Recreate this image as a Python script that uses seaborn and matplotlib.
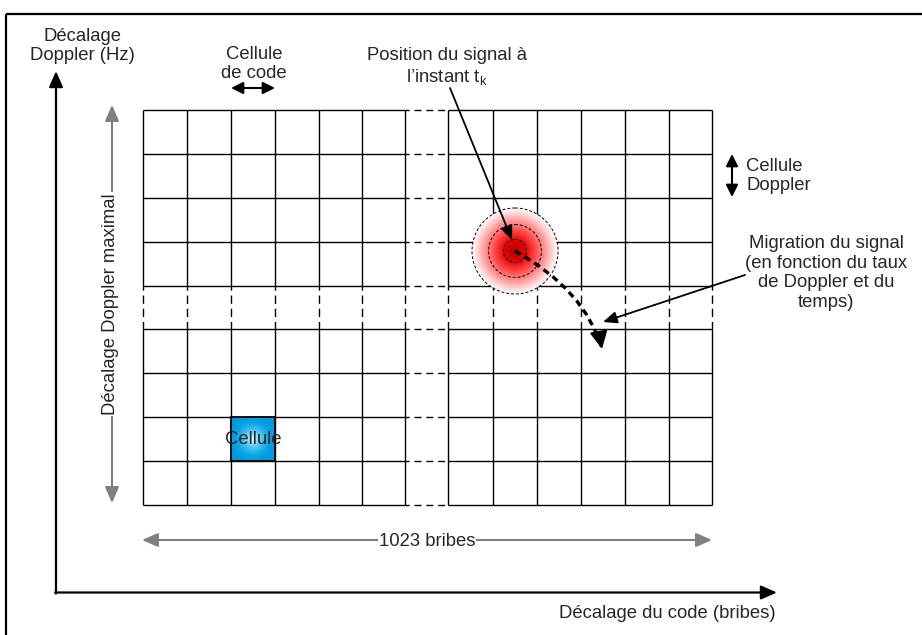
import numpy as np
import matplotlib
matplotlib.use("Agg")
import matplotlib.pyplot as plt
import seaborn as sns
from matplotlib.patches import Rectangle, Circle, PathPatch
from matplotlib.path import Path
from matplotlib.colors import LinearSegmentedColormap

sns.set_theme(style="white")
plt.rcParams['font.family'] = ['Liberation Sans', 'DejaVu Sans']
plt.rcParams['mathtext.fontset'] = 'custom'
plt.rcParams['mathtext.rm'] = 'Liberation Sans'

# ---- data (pixel layout of the diagram) ----
col_edges = [143, 187, 231, 275, 319, 362, 405, 448, 493, 537, 581, 625, 669, 712]
row_edges = [110, 154, 198, 242, 286, 329, 373, 417, 461, 505]
gap_col = 6          # column drawn with dashed lines
gap_row = 4          # row drawn with dashed lines
cell_col, cell_row = 2, 7      # highlighted "Cellule"
signal_center = (515, 251)
signal_radii = [11.5, 26.5, 43]
migration_path = [(515, 251), (585, 290), (602, 349)]

FS = 13.3
fig = plt.figure(figsize=(9.22, 6.35), dpi=100)
ax = fig.add_axes([0, 0, 1, 1])
ax.set_xlim(0, 922)
ax.set_ylim(635, 0)
ax.axis('off')

# frame
ax.add_patch(Rectangle((6, 14), 940, 640, fill=False, lw=1.6, ec='black'))

grid_lw = 1.0
x0, x1 = col_edges[0], col_edges[-1]
y0, y1 = row_edges[0], row_edges[-1]
gx0, gx1 = col_edges[gap_col], col_edges[gap_col + 1]
gy0, gy1 = row_edges[gap_row], row_edges[gap_row + 1]

# horizontal lines
for y in row_edges:
    ax.plot([x0, gx0], [y, y], color='black', lw=grid_lw, solid_capstyle='butt')
    ax.plot([gx1, x1], [y, y], color='black', lw=grid_lw, solid_capstyle='butt')
    ax.plot([gx0, gx1], [y, y], color='black', lw=grid_lw, linestyle=(2, (5, 3.5)))
# vertical lines
for x in col_edges:
    ax.plot([x, x], [y0, gy0], color='black', lw=grid_lw, solid_capstyle='butt')
    ax.plot([x, x], [gy1, y1], color='black', lw=grid_lw, solid_capstyle='butt')
    ax.plot([x, x], [gy0, gy1], color='black', lw=grid_lw, linestyle=(3, (6, 3.5)))

# blue cell with radial gradient
cx0, cx1 = col_edges[cell_col], col_edges[cell_col + 1]
cy0, cy1 = row_edges[cell_row], row_edges[cell_row + 1]
yy, xx = np.mgrid[-1:1:200j, -1:1:200j]
rr = np.clip(np.sqrt(xx**2 + yy**2) / 1.1, 0, 1)
blue_cmap = LinearSegmentedColormap.from_list('b', ['#e6f8ff', '#55c8f2', '#0aa6e6', '#0098dc'])
ax.imshow(rr, cmap=blue_cmap, extent=(cx0, cx1, cy1, cy0), zorder=2, vmin=0, vmax=1,
          interpolation='bilinear')
ax.add_patch(Rectangle((cx0, cy0), cx1 - cx0, cy1 - cy0, fill=False, ec='black', lw=1.3, zorder=3))
ax.text((cx0 + cx1) / 2, (cy0 + cy1) / 2 + 0.5, 'Cellule', ha='center', va='center', fontsize=FS, zorder=4)

# red signal gradient
scx, scy = signal_center
R = signal_radii[-1]
yy, xx = np.mgrid[-1:1:300j, -1:1:300j]
r = np.sqrt(xx**2 + yy**2)
rgba = np.zeros(r.shape + (4,))
red_cmap = LinearSegmentedColormap.from_list('r', [(0, '#b00000'), (0.22, '#e00000'), (0.45, '#ff3f3f'),
                                                  (0.75, '#ffa8a8'), (1.0, '#ffffff')])
rgba[:] = red_cmap(np.clip(r, 0, 1))
rgba[..., 3] = np.where(r <= 1, 1.0, 0.0)
ax.imshow(rgba, extent=(scx - R, scx + R, scy + R, scy - R), zorder=5, interpolation='bilinear')
for rad in signal_radii:
    ax.add_patch(Circle(signal_center, rad, fill=False, ec='black', lw=0.7,
                        linestyle=(0, (3, 2)), zorder=6))

# migration path (thick dashed curve + arrow head)
path = Path(migration_path, [Path.MOVETO, Path.CURVE3, Path.CURVE3])
ax.add_patch(PathPatch(path, fill=False, ec='black', lw=2.4, linestyle=(0, (2, 1.4)), zorder=7))
ax.annotate('', xy=migration_path[-1], xytext=(599.5, 336),
            arrowprops=dict(arrowstyle='-|>,head_length=0.9,head_width=0.45', color='black', lw=1.5,
                            shrinkA=0, shrinkB=0), zorder=8)

arrow_k = dict(arrowstyle='-|>,head_length=0.7,head_width=0.3', color='black', lw=1.3, shrinkA=0, shrinkB=0)
# position arrow
ax.annotate('', xy=(512, 240), xytext=(450, 88), arrowprops=arrow_k, zorder=9)
# migration label arrow
ax.annotate('', xy=(603, 322), xytext=(745, 275), arrowprops=arrow_k, zorder=9)

dbl = dict(arrowstyle='<|-|>,head_length=0.6,head_width=0.3', color='black', lw=1.5, shrinkA=0, shrinkB=0)
ax.annotate('', xy=(231, 88), xytext=(275, 88), arrowprops=dbl)
ax.annotate('', xy=(732, 154), xytext=(732, 197), arrowprops=dbl)

# main black axes
axk = dict(arrowstyle='-|>,head_length=0.8,head_width=0.35', color='black', lw=1.6, shrinkA=0, shrinkB=0)
ax.annotate('', xy=(56, 71), xytext=(56, 593.5), arrowprops=axk)
ax.annotate('', xy=(777, 592.5), xytext=(55, 592.5), arrowprops=axk)

# gray dimension arrows
gray = '#808080'
axg = dict(arrowstyle='<|-|>,head_length=0.8,head_width=0.35', color=gray, lw=1.5, shrinkA=0, shrinkB=0)
ax.annotate('', xy=(112, 105), xytext=(112, 503), arrowprops=axg)
ax.annotate('', xy=(142, 540), xytext=(712, 540), arrowprops=axg)
ax.text(110, 304, 'Décalage Doppler maximal', rotation=90, ha='center', va='center', fontsize=FS,
        bbox=dict(facecolor='white', edgecolor='none', pad=1))
ax.text(427, 541, '1023 bribes', ha='center', va='center', fontsize=FS,
        bbox=dict(facecolor='white', edgecolor='none', pad=0.5))

# labels
ls = 1.15
ax.text(82, 46, 'Décalage\nDoppler (Hz)', ha='center', va='center', fontsize=FS, linespacing=ls)
ax.text(254, 64, 'Cellule\nde code', ha='center', va='center', fontsize=FS, linespacing=ls)
ax.text(447, 67, 'Position du signal à\nl’instant t$_\\mathrm{k}$', ha='center', va='center',
        fontsize=FS, linespacing=ls)
ax.text(746, 176, 'Cellule\nDoppler', ha='left', va='center', fontsize=FS, linespacing=ls)
ax.text(826, 273, 'Migration du signal\n(en fonction du taux\nde Doppler et du\ntemps)', ha='center',
        va='center', fontsize=FS, linespacing=1.22)
ax.text(776, 614, 'Décalage du code (bribes)', ha='right', va='center', fontsize=FS)

fig.savefig('out.png', dpi=100)
